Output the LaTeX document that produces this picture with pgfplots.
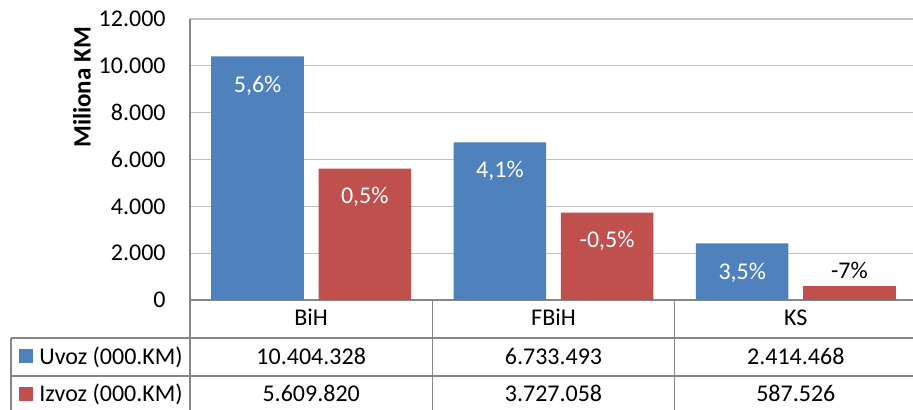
\documentclass[border=0pt]{standalone}
\usepackage{pgfplots}
\pgfplotsset{compat=1.18}
\usepackage{fontspec}
\setmainfont{Carlito}
\definecolor{uvoz}{HTML}{4F81BD}
\definecolor{izvoz}{HTML}{C0504D}
\definecolor{gridc}{HTML}{C0C0C0}
\definecolor{linec}{HTML}{868686}
\newcommand{\lbl}{\fontsize{12}{14}\selectfont}

\begin{document}
\begin{tikzpicture}
\useasboundingbox (0pt,0pt) rectangle (456.5pt,-204.5pt);
\begin{axis}[
  at={(95pt,-150pt)}, anchor=south west,
  scale only axis, width=363.5pt, height=140.5pt,
  xmin=-0.5, xmax=2.5, ymin=0, ymax=12000,
  ytick distance=2000, scaled y ticks=false,
  xtick={0,1,2}, xticklabels={BiH,FBiH,KS},
  major tick length=0pt,
  ymajorgrids, grid style={gridc, line width=0.6pt},
  axis x line*=bottom, axis y line*=left,
  axis line style={linec, line width=0.6pt, -},
  tick label style={font=\lbl, inner sep=0pt},
  yticklabel style={anchor=east, xshift=-12pt},
  xticklabel style={anchor=base, yshift=-12.5pt},
  /pgf/number format/.cd, 1000 sep={.}, fixed, assume math mode=true,
  /pgfplots/.cd,
  clip=false,
]
% Uvoz, milioni KM
\addplot[ybar, fill=uvoz, draw=none, bar width=0.382, bar shift=-0.2215,
  nodes near coords, point meta=explicit symbolic,
  nodes near coords style={text=white, font=\lbl, anchor=center, xshift=-26.8pt, yshift=-14.5pt}]
  coordinates {(0,10404.328)[5,6\%] (1,6733.493)[4,1\%] (2,2414.468)[3,5\%]};
% Izvoz, milioni KM
\addplot[ybar, fill=izvoz, draw=none, bar width=0.382, bar shift=0.2215,
  nodes near coords, point meta=explicit symbolic,
  nodes near coords style={text=white, font=\lbl, anchor=center, xshift=26.8pt, yshift=-14pt}]
  coordinates {(0,5609.820)[0,5\%] (1,3727.058)[-0,5\%]};
\addplot[ybar, fill=izvoz, draw=none, bar width=0.382, bar shift=0.2215,
  nodes near coords, point meta=explicit symbolic,
  nodes near coords style={text=black, font=\lbl, anchor=center, xshift=26.8pt, yshift=8pt}]
  coordinates {(2,587.526)[-7\%]};
\end{axis}

% tablica podataka
\draw[linec, line width=0.6pt] (5.5pt,-169pt) -- (470pt,-169pt) (5.5pt,-188pt) -- (470pt,-188pt);
\draw[linec, line width=0.6pt] (5.5pt,-169pt) -- (5.5pt,-210pt)
  (95pt,-150pt) -- (95pt,-210pt) (216.2pt,-150pt) -- (216.2pt,-210pt) (337.3pt,-150pt) -- (337.3pt,-210pt);

\fill[uvoz] (9.5pt,-174.5pt) rectangle (16.5pt,-181.5pt);
\fill[izvoz] (9.5pt,-193.5pt) rectangle (16.5pt,-200.5pt);
\node[anchor=base west, inner sep=0pt, font=\lbl] at (19.5pt,-182pt) {Uvoz (000.KM)};
\node[anchor=base west, inner sep=0pt, font=\lbl] at (19.5pt,-200.8pt) {Izvoz (000.KM)};

\foreach \x/\u/\i in {155.6/10.404.328/5.609.820, 276.75/6.733.493/3.727.058, 397.9/2.414.468/587.526} {
  \node[anchor=base, inner sep=0pt, font=\lbl] at (\x pt,-182pt) {\u};
  \node[anchor=base, inner sep=0pt, font=\lbl] at (\x pt,-200.8pt) {\i};
}

\node[rotate=90, inner sep=0pt, font=\bfseries\fontsize{12.5}{15}\selectfont] at (41pt,-43.75pt) {Miliona KM};
\end{tikzpicture}
\end{document}
